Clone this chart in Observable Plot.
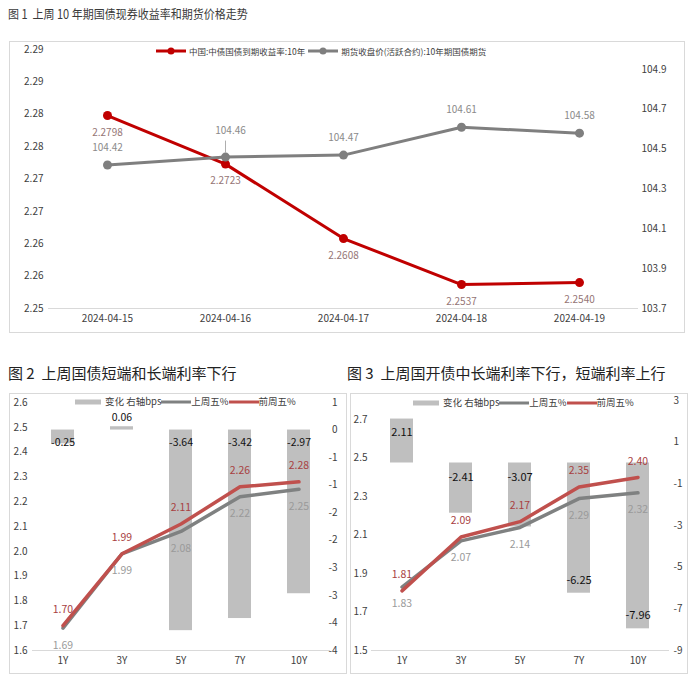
<!DOCTYPE html>
<html><head><meta charset="utf-8">
<script src="https://cdn.jsdelivr.net/npm/d3@7"></script>
<script src="https://cdn.jsdelivr.net/npm/@observablehq/plot@0.6"></script>
<style>
body{margin:0;background:#fff;font-family:"Noto Sans CJK SC","Noto Sans",sans-serif;}
#page{position:relative;width:700px;height:685px;overflow:hidden;background:#fff;}
.title{position:absolute;white-space:nowrap;line-height:1;}
.box{position:absolute;outline:1px solid #d9d9d9;}
.box svg{position:absolute;left:0;top:0;overflow:visible;}
.legend{position:absolute;display:flex;align-items:center;white-space:nowrap;color:#404040;line-height:1;}
.legend svg{display:block;}
</style></head><body>
<div id="page">
  <div class="title" id="t1" style="left:8px;top:8px;font-size:12.5px;color:#3a3a3a;transform:scaleX(0.88);transform-origin:left center;">图 1&nbsp;&nbsp;上周 10 年期国债现券收益率和期货价格走势</div>
  <div class="title" id="t2" style="left:8px;top:365px;font-size:15px;color:#222;">图 2&nbsp;&nbsp;上周国债短端和长端利率下行</div>
  <div class="title" id="t3" style="left:347px;top:365px;font-size:15px;color:#222;">图 3&nbsp;&nbsp;上周国开债中长端利率下行，短端利率上行</div>
  <div class="box" id="c1" style="left:10px;top:42px;width:674px;height:290px;"></div>
  <div class="box" id="c2" style="left:10px;top:394px;width:336px;height:279px;"></div>
  <div class="box" id="c3" style="left:351px;top:394px;width:336px;height:279px;"></div>
  <div class="legend" id="lg1" style="left:155px;top:46px;font-size:8.5px;"></div>
  <div class="legend" id="lg2" style="left:75px;top:397px;font-size:9.5px;"></div>
  <div class="legend" id="lg3" style="left:413px;top:398px;font-size:9.5px;"></div>
</div>
<script>
// ---------- Chart 1 data ----------
const dates = ["2024-04-15","2024-04-16","2024-04-17","2024-04-18","2024-04-19"];
const yield10y = [2.2798, 2.2723, 2.2608, 2.2537, 2.2540];
const futures10y = [104.42, 104.46, 104.47, 104.61, 104.58];
const c1SeriesNames = ["中国:中债国债到期收益率:10年", "期货收盘价(活跃合约):10年期国债期货"];
const c1LeftDomain = [2.25, 2.29];
const c1LeftTicks = [2.25, 2.255, 2.26, 2.265, 2.27, 2.275, 2.28, 2.285, 2.29];
const c1LeftLabels = ["2.25","2.26","2.26","2.27","2.27","2.28","2.28","2.29","2.29"];
const c1RightDomain = [103.7, 105.0];
const c1RightTicks = [103.7, 103.9, 104.1, 104.3, 104.5, 104.7, 104.9];
const c1RightLabels = ["103.7","103.9","104.1","104.3","104.5","104.7","104.9"];
const c1CalloutDates = ["2024-04-16"];

// ---------- Chart 2 data ----------
const tenors = ["1Y","3Y","5Y","7Y","10Y"];
const c2Change = [-0.25, 0.06, -3.64, -3.42, -2.97];
const c2Last = [1.69, 1.99, 2.08, 2.22, 2.25];
const c2Prev = [1.70, 1.99, 2.11, 2.26, 2.28];
const c2LeftDomain = [1.6, 2.6];
const c2LeftTicks = [1.6,1.7,1.8,1.9,2.0,2.1,2.2,2.3,2.4,2.5,2.6];
const c2LeftLabels = ["1.6","1.7","1.8","1.9","2.0","2.1","2.2","2.3","2.4","2.5","2.6"];
const c2RightDomain = [-4, 0.5];
const c2RightTicks = [0.5, 0, -0.5, -1, -1.5, -2, -2.5, -3, -3.5, -4];
const c2RightLabels = ["1","0","-1","-1","-2","-2","-3","-3","-4","-4"];

// ---------- Chart 3 data ----------
const c3Change = [2.11, -2.41, -3.07, -6.25, -7.96];
const c3Last = [1.83, 2.07, 2.14, 2.29, 2.32];
const c3Prev = [1.81, 2.09, 2.17, 2.35, 2.40];
const c3LeftDomain = [1.5, 2.8];
const c3LeftTicks = [1.5,1.7,1.9,2.1,2.3,2.5,2.7];
const c3LeftLabels = ["1.5","1.7","1.9","2.1","2.3","2.5","2.7"];
const c3RightDomain = [-9, 3];
const c3RightTicks = [3, 1, -1, -3, -5, -7, -9];
const c3RightLabels = ["3","1","-1","-3","-5","-7","-9"];

const legendNames = ["变化 右轴bps", "上周五%", "前周五%"];

const FONT = '"Noto Sans CJK SC","Noto Sans",sans-serif';
const AXIS = "#404040";

function mapper(L, R) {
  return v => L[0] + (v - R[0]) * (L[1] - L[0]) / (R[1] - R[0]);
}
function labeler(ticks, labels) {
  return d => {
    let bi = 0, bd = Infinity;
    ticks.forEach((t, i) => { const dd = Math.abs(t - d); if (dd < bd) { bd = dd; bi = i; } });
    return labels[bi];
  };
}

// ---------- Chart 1 ----------
{
  const r2l = mapper(c1LeftDomain, c1RightDomain);
  const rows = dates.map((d, i) => ({date: d, y: yield10y[i], f: futures10y[i], fy: r2l(futures10y[i])}));
  const rightPos = c1RightTicks.map(r2l);
  const RED = "#C00000", GRAY = "#7F7F7F";
  const normal = rows.filter(d => !c1CalloutDates.includes(d.date));
  const callout = rows.filter(d => c1CalloutDates.includes(d.date));
  const p = Plot.plot({
    width: 674, height: 290,
    marginLeft: 38, marginRight: 46, marginTop: 7, marginBottom: 24,
    style: {fontFamily: FONT, fontSize: "10px", color: AXIS, background: "transparent"},
    x: {type: "band", domain: dates, paddingInner: 0, paddingOuter: 0},
    y: {domain: c1LeftDomain},
    marks: [
      Plot.ruleY([c1LeftDomain[0]], {stroke: "#d9d9d9", strokeWidth: 1}),
      Plot.axisX({tickSize: 0, tickPadding: 6, fontSize: 10, label: null}),
      Plot.axisY({ticks: c1LeftTicks, tickFormat: labeler(c1LeftTicks, c1LeftLabels), tickSize: 0, tickPadding: 5, fontSize: 10, label: null}),
      Plot.axisY({anchor: "right", ticks: rightPos, tickFormat: labeler(rightPos, c1RightLabels), tickSize: 0, tickPadding: 3, fontSize: 10, label: null}),
      Plot.line(rows, {x: "date", y: "y", stroke: RED, strokeWidth: 3}),
      Plot.dot(rows, {x: "date", y: "y", r: 4.5, fill: RED}),
      Plot.line(rows, {x: "date", y: "fy", stroke: GRAY, strokeWidth: 3}),
      Plot.dot(rows, {x: "date", y: "fy", r: 4.5, fill: GRAY}),
      Plot.text(rows, {x: "date", y: "y", text: d => d.y.toFixed(4), dy: 17, fill: "#957575", fontSize: 10}),
      Plot.text(normal, {x: "date", y: "fy", text: d => d.f.toFixed(2), dy: -17, fill: "#8a8a8a", fontSize: 10}),
      Plot.text(callout, {x: "date", y: "fy", text: d => d.f.toFixed(2), dy: -26, dx: 5, fill: "#8a8a8a", fontSize: 10}),
      Plot.ruleX(callout, {x: "date", y1: "fy", y2: "fy", insetTop: -4, insetBottom: 16, stroke: "#999", strokeWidth: 0.8})
    ]
  });
  document.getElementById("c1").appendChild(p);

  const lg = document.getElementById("lg1");
  const cols = [RED, GRAY];
  c1SeriesNames.forEach((n, i) => {
    lg.insertAdjacentHTML("beforeend",
      `<svg width="32" height="10"><line x1="1" x2="31" y1="5" y2="5" stroke="${cols[i]}" stroke-width="3"/><circle cx="16" cy="5" r="3.5" fill="${cols[i]}"/></svg><span style="margin:0 2px 0 2px">${n}</span>`);
  });
}

// ---------- Charts 2 & 3 ----------
function barLine(el, cfg) {
  const r2l = mapper(cfg.L, cfg.R);
  const rows = tenors.map((t, i) => ({t, c: cfg.change[i], last: cfg.last[i], prev: cfg.prev[i]}));
  const rightPos = cfg.rTicks.map(r2l);
  const GRAY = "#7F8181", RED = "#C0504D", BAR = "#BFBFBF";
  const p = Plot.plot({
    width: 336, height: 279,
    marginLeft: cfg.ml, marginRight: cfg.mr, marginTop: cfg.mt, marginBottom: 23,
    style: {fontFamily: FONT, fontSize: "10px", color: AXIS, background: "transparent"},
    x: {type: "band", domain: tenors, paddingInner: 0.61, paddingOuter: 0.305},
    y: {domain: cfg.L},
    marks: [
      Plot.ruleY([cfg.L[0]], {stroke: "#d9d9d9", strokeWidth: 1}),
      Plot.barY(rows, {x: "t", y1: () => r2l(0), y2: d => r2l(d.c), fill: BAR}),
      Plot.axisX({tickSize: 0, tickPadding: 6, fontSize: 10, label: null}),
      Plot.axisY({ticks: cfg.lTicks, tickFormat: labeler(cfg.lTicks, cfg.lLabels), tickSize: 0, tickPadding: cfg.lpad, fontSize: 10, label: null}),
      Plot.axisY({anchor: "right", ticks: rightPos, tickFormat: labeler(rightPos, cfg.rLabels), tickSize: 0, tickPadding: cfg.rpad, textAnchor: cfg.rAnchor, fontSize: 10, label: null}),
      Plot.line(rows, {x: "t", y: "last", stroke: GRAY, strokeWidth: 3.5}),
      Plot.line(rows, {x: "t", y: "prev", stroke: RED, strokeWidth: 3.5}),
      Plot.text(rows, {x: "t", y: "prev", text: d => d.prev.toFixed(2), dy: -16, fill: "#A8413F", fontSize: 10.5}),
      Plot.text(rows, {x: "t", y: "last", text: d => d.last.toFixed(2), dy: 17, fill: "#9A9A9A", fontSize: 10.5}),
      ...cfg.barLabels(rows, r2l)
    ]
  });
  el.appendChild(p);
}

barLine(document.getElementById("c2"), {
  change: c2Change, last: c2Last, prev: c2Prev,
  L: c2LeftDomain, R: c2RightDomain,
  lTicks: c2LeftTicks, lLabels: c2LeftLabels, rTicks: c2RightTicks, rLabels: c2RightLabels,
  ml: 22, mr: 16, mt: 8, lpad: 5, rpad: 7, rAnchor: "end",
  barLabels: (rows, r2l) => [
    Plot.text(rows.filter(d => d.c < 0), {x: "t", y: () => r2l(0), text: d => d.c.toFixed(2), dy: 13, fill: "#111", fontSize: 10.5}),
    Plot.text(rows.filter(d => d.c >= 0), {x: "t", y: d => r2l(d.c), text: d => d.c.toFixed(2), dy: -9, fill: "#111", fontSize: 10.5})
  ]
});

barLine(document.getElementById("c3"), {
  change: c3Change, last: c3Last, prev: c3Prev,
  L: c3LeftDomain, R: c3RightDomain,
  lTicks: c3LeftTicks, lLabels: c3LeftLabels, rTicks: c3RightTicks, rLabels: c3RightLabels,
  ml: 20, mr: 18, mt: 6, lpad: 4, rpad: 4, rAnchor: "start",
  barLabels: (rows, r2l) => [
    Plot.text(rows.filter(d => d.c >= 0), {x: "t", y: d => r2l(d.c), text: d => d.c.toFixed(2), dy: 13, fill: "#111", fontSize: 11}),
    Plot.text(rows.filter(d => d.c < 0 && d.c > -5), {x: "t", y: () => r2l(0), text: d => d.c.toFixed(2), dy: 14, fill: "#111", fontSize: 11}),
    Plot.text(rows.filter(d => d.c <= -5), {x: "t", y: d => r2l(d.c), text: d => d.c.toFixed(2), dy: -13, fill: "#111", fontSize: 11})
  ]
});

function barLegend(id) {
  const lg = document.getElementById(id);
  lg.insertAdjacentHTML("beforeend",
    `<svg width="26" height="10"><rect x="0" y="2.5" width="26" height="5" fill="#BFBFBF"/></svg><span style="margin:0 0 0 4px">${legendNames[0]}</span>` +
    `<svg width="30" height="10"><line x1="0" x2="30" y1="5" y2="5" stroke="#7F8181" stroke-width="3"/></svg><span>${legendNames[1]}</span>` +
    `<svg width="30" height="10"><line x1="0" x2="30" y1="5" y2="5" stroke="#C0504D" stroke-width="3"/></svg><span>${legendNames[2]}</span>`);
}
barLegend("lg2");
barLegend("lg3");
</script>
</body></html>
